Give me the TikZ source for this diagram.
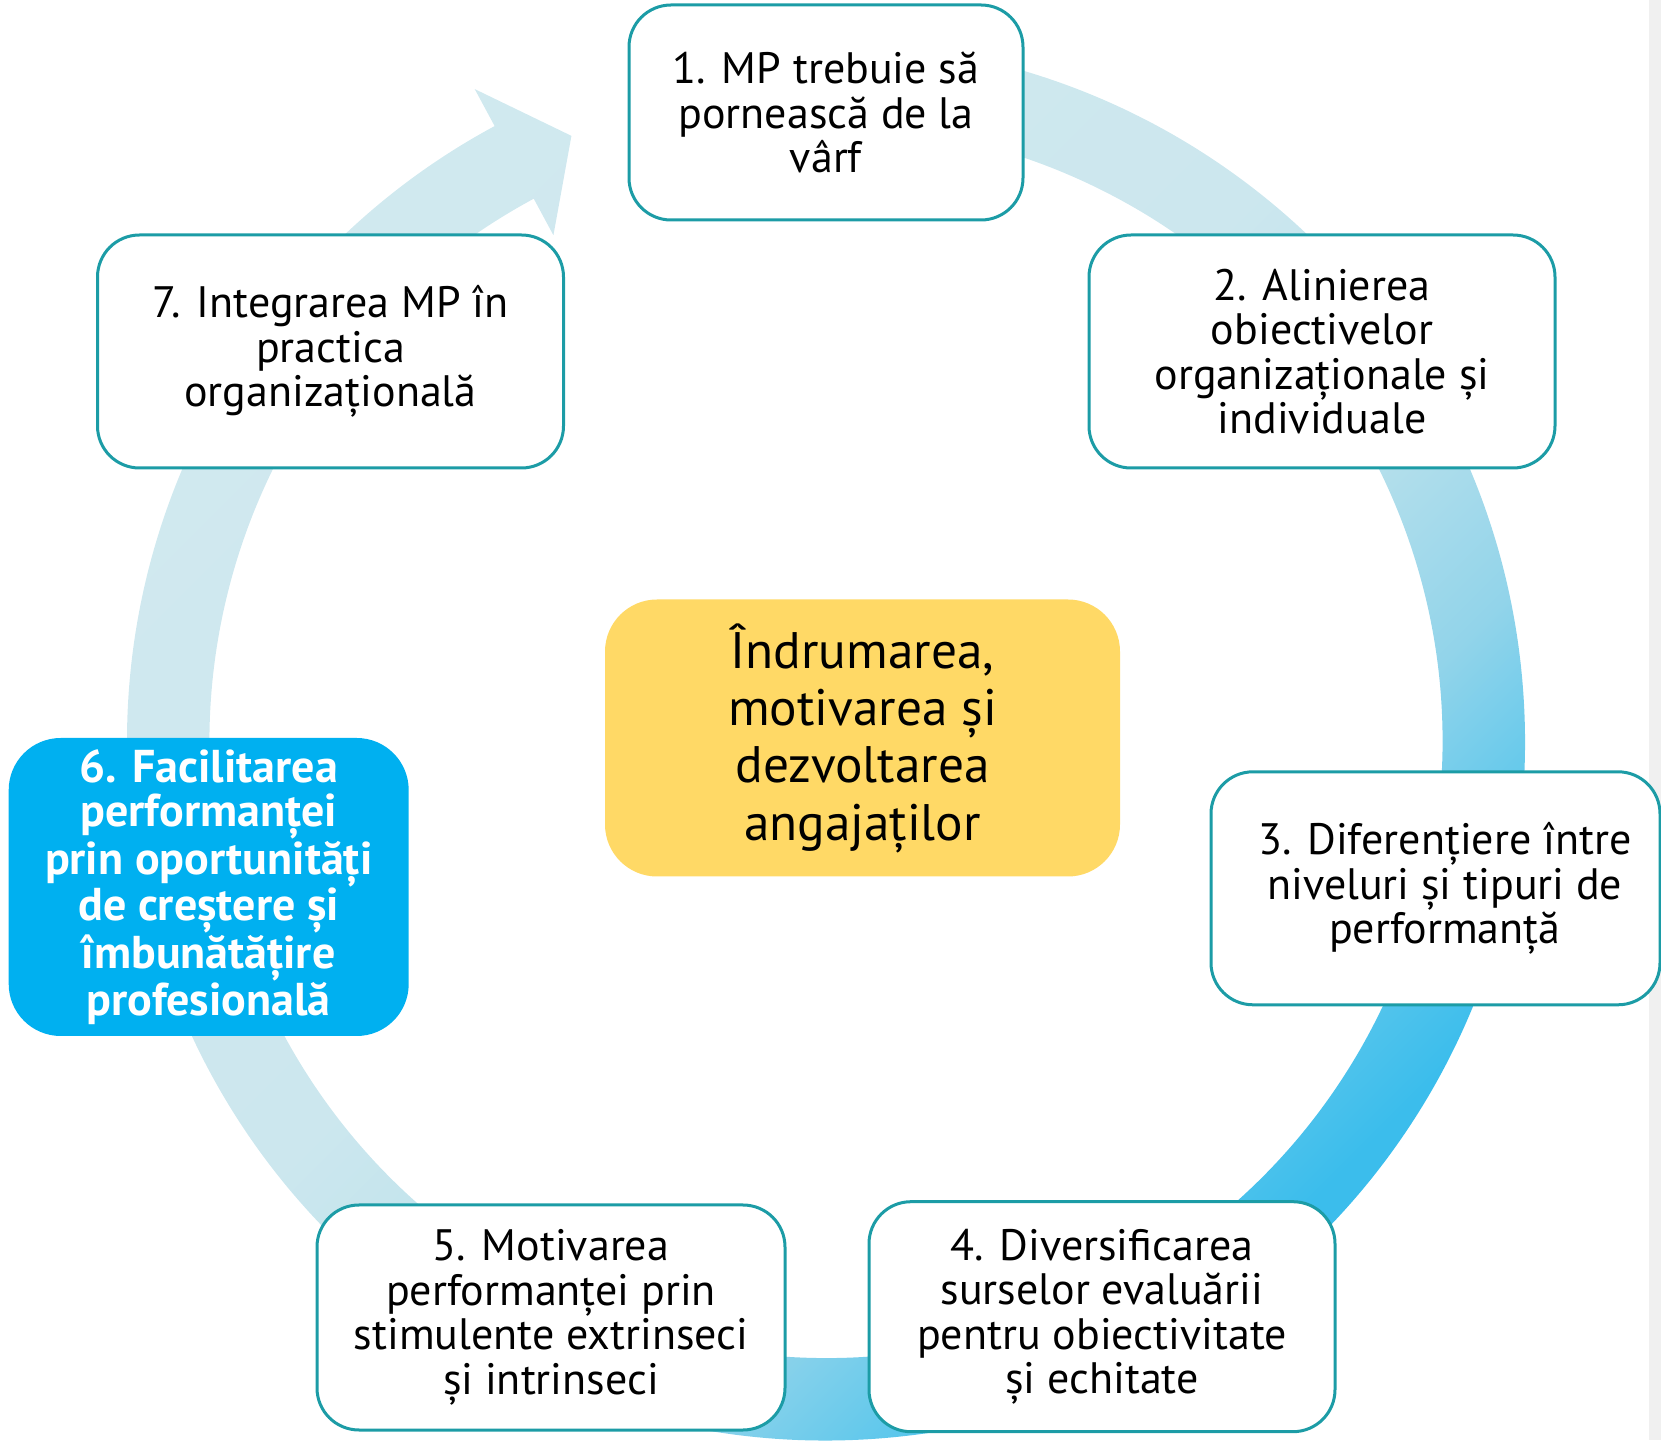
\documentclass[tikz,border=0pt]{standalone}
\usepackage{fontspec}
\setmainfont{PT Sans}
\usepackage{tikz}
\usetikzlibrary{positioning}

\definecolor{tealline}{HTML}{1C9CA6}
\definecolor{cyanbox}{HTML}{00B0F0}
\definecolor{coreyellow}{HTML}{FFD966}
\definecolor{stripgray}{HTML}{F0F0F0}
\definecolor{ringA}{HTML}{2FB9EC}
\definecolor{ringB}{HTML}{3BBDEC}
\definecolor{ringC}{HTML}{58C6EC}
\definecolor{ringD}{HTML}{92D4EA}
\definecolor{ringE}{HTML}{BDE2EC}
\definecolor{ringF}{HTML}{CCE7EE}
\definecolor{ringG}{HTML}{D6EBF0}
\pgfdeclareverticalshading{ringshade}{100bp}{color(0bp)=(ringA); color(27bp)=(ringB); color(31bp)=(ringC); color(37bp)=(ringD); color(45bp)=(ringE); color(53bp)=(ringF); color(100bp)=(ringG)}

\begin{document}
\begin{tikzpicture}[x=0.75pt,y=0.75pt,
  stage/.style={draw=tealline,line width=2.25pt,fill=white,rounded corners=31.5pt,
    align=center,inner sep=0pt,font=\fontsize{33}{33.4}\selectfont},
  focus/.style={fill=cyanbox,rounded corners=39pt,align=center,inner sep=0pt,
    text=white,font=\fontsize{34.5}{33.4}\selectfont\bfseries},
  core/.style={fill=coreyellow,rounded corners=39pt,align=center,inner sep=0pt,
    font=\fontsize{38.5}{43}\selectfont}]
\useasboundingbox (0,0) rectangle (1661,1440);
\fill[stripgray] (1649,0) rectangle (1661,1440);
% ring arrow
\begin{scope}[shift={(826,698.5)}]
\shade[shading=ringshade,shading angle=45] (95:524.25pt) arc[start angle=95,end angle=-241.7,radius=524.25pt]
  -- (-241.7:555.75pt) -- (-247.2:492.75pt) -- (-241.7:431.25pt) -- (-241.7:462.375pt)
  arc[start angle=-241.7,end angle=95,radius=462.375pt] -- cycle;
\end{scope}
% stages
\node[stage,minimum width=295.5pt,minimum height=161.25pt] (s1) at (826,1327.5) {1. MP trebuie să\\pornească de la\\vârf};
\node[stage,minimum width=349.5pt,minimum height=174.75pt] (s2) at (1322,1088.5) {2. Alinierea\\obiectivelor\\organizaționale și\\individuale};
\node[stage,minimum width=336.75pt,minimum height=174.75pt] (s3) at (1435.5,551.7) {\hspace*{14pt}3. Diferențiere între\\\hspace*{14pt}niveluri și tipuri de\\\hspace*{14pt}performanță};
\node[stage,minimum width=349.5pt,minimum height=172.5pt] (s4) at (1102,123.3) {4. Diversificarea\\surselor evaluării\\pentru obiectivitate\\și echitate};
\node[stage,minimum width=351pt,minimum height=168.75pt] (s5) at (551,122.5) {5. Motivarea\\performanței prin\\stimulente extrinseci\\și intrinseci};
\node[focus,minimum width=300pt,minimum height=223.5pt] (s6) at (208.7,553) {6. Facilitarea\\performanței\\prin oportunități\\de creștere și\\îmbunătățire\\profesională};
\node[stage,minimum width=349.5pt,minimum height=174.75pt] (s7) at (330.5,1088.5) {7. Integrarea MP în\\practica\\organizațională};
\node[core,minimum width=386.25pt,minimum height=207.75pt] (hub) at (862.5,702) {Îndrumarea,\\motivarea și\\dezvoltarea\\angajaților};
\end{tikzpicture}
\end{document}
